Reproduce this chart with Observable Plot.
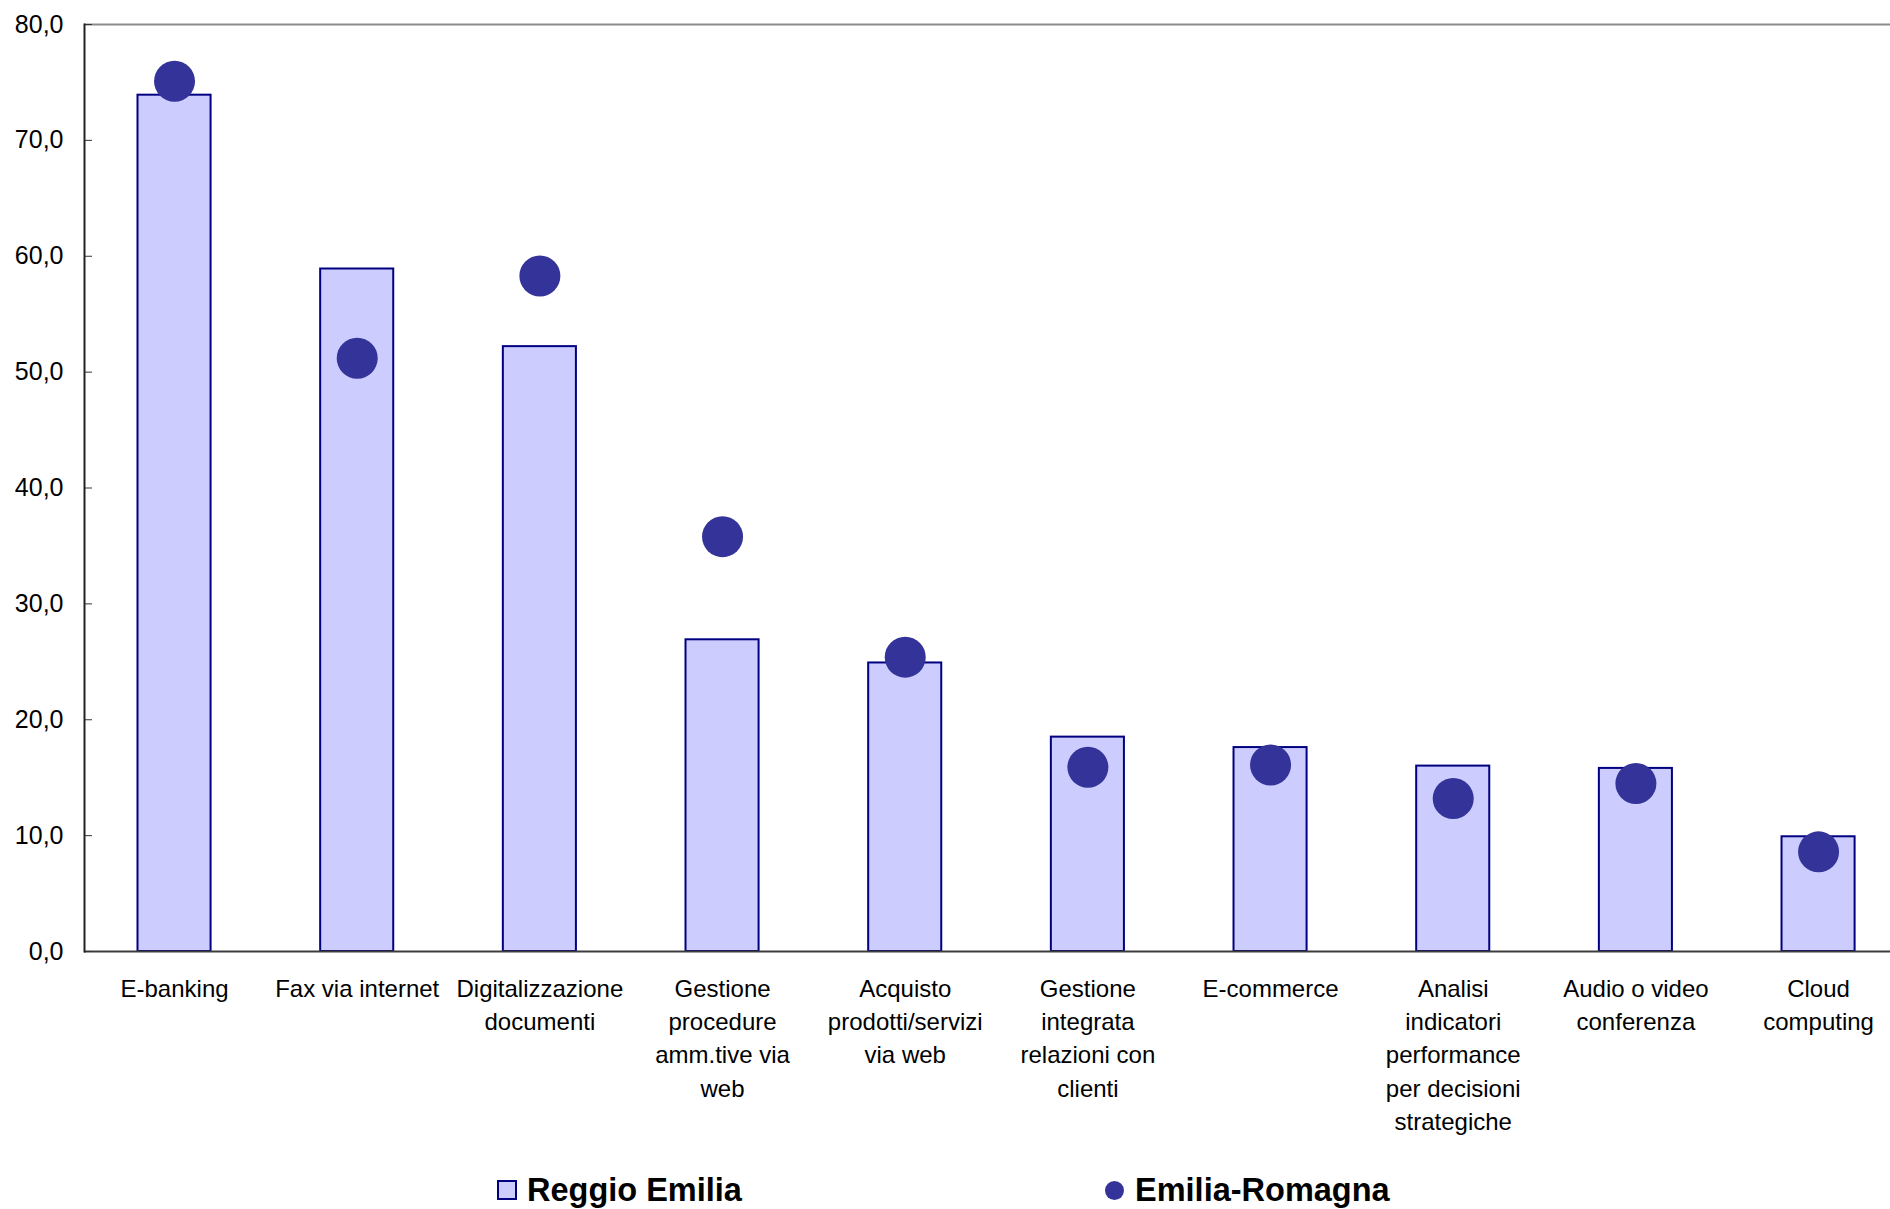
<!DOCTYPE html>
<html><head><meta charset="utf-8">
<script src="https://cdn.jsdelivr.net/npm/d3@7"></script>
<script src="https://cdn.jsdelivr.net/npm/@observablehq/plot@0.6"></script>
<style>
body{margin:0;background:#fff;font-family:"Liberation Sans",Arial,sans-serif;}
#chart svg{display:block;}
#legend{position:relative;height:59px;width:1890px;overflow:hidden;}
.item{position:absolute;top:21px;height:38px;display:flex;align-items:center;font-weight:bold;font-size:32.5px;color:#000;white-space:nowrap;}
.sq{width:16px;height:16px;background:#ccccff;border:2px solid #000080;margin-right:10px;}
.dt{width:19px;height:19px;border-radius:50%;background:#333399;margin-right:11px;}
</style></head><body>
<div id="chart"></div>
<div id="legend"></div>
<script>
const categories = ["E-banking","Fax via internet","Digitalizzazione documenti","Gestione procedure amm.tive via web","Acquisto prodotti/servizi via web","Gestione integrata relazioni con clienti","E-commerce","Analisi indicatori performance per decisioni strategiche","Audio o video conferenza","Cloud computing"];
const tickLabels = ["E-banking","Fax via internet","Digitalizzazione\ndocumenti","Gestione\nprocedure\namm.tive via\nweb","Acquisto\nprodotti/servizi\nvia web","Gestione\nintegrata\nrelazioni con\nclienti","E-commerce","Analisi\nindicatori\nperformance\nper decisioni\nstrategiche","Audio o video\nconferenza","Cloud\ncomputing"];
const reggioEmilia = [73.9, 58.9, 52.2, 26.9, 24.9, 18.5, 17.6, 16.0, 15.8, 9.9];
const emiliaRomagna = [75.1, 51.2, 58.3, 35.8, 25.4, 15.9, 16.1, 13.2, 14.5, 8.6];
const yTicks = [0, 10, 20, 30, 40, 50, 60, 70, 80];
const seriesNames = ["Reggio Emilia", "Emilia-Romagna"];

const data = categories.map((c, i) => ({cat: c, label: tickLabels[i], re: reggioEmilia[i], er: emiliaRomagna[i]}));
const fmt = d => d.toFixed(1).replace(".", ",");

const chart = Plot.plot({
  width: 1890, height: 1150,
  marginLeft: 84, marginRight: -20, marginTop: 24, marginBottom: 199,
  style: {fontFamily: "'Liberation Sans', Arial, sans-serif", background: "#fff", color: "#000"},
  x: {domain: categories, range: [82.7, 1909.4], round: false, paddingInner: 0.6, paddingOuter: 0.3, axis: null},
  y: {domain: [0, 80], axis: null},
  marks: [
    Plot.barY(data, {x: "cat", y: "re", fill: "#ccccff", stroke: "#000080", strokeWidth: 2}),
    Plot.ruleY([80], {stroke: "#8c8c8c", strokeWidth: 2}),
    Plot.ruleY([0], {stroke: "#3c3c3c", strokeWidth: 2}),
    Plot.axisY({ticks: yTicks, tickFormat: fmt, tickSize: 0, tickPadding: 21, fontSize: 25, fill: "#000"}),
    Plot.axisY({ticks: yTicks, tickFormat: () => "", tickSize: 8, dx: 8, stroke: "#333"}),
    Plot.frame({anchor: "left", stroke: "#222", strokeWidth: 2}),
    Plot.dot(data, {x: "cat", y: "er", r: 20.5, fill: "#333399"}),
    Plot.text(data, {x: "cat", text: "label", frameAnchor: "bottom", lineAnchor: "top", dy: 22, lineHeight: 1.383, fontSize: 24, fill: "#000"})
  ]
});
document.getElementById("chart").appendChild(chart);

const legend = document.getElementById("legend");
const items = [{name: seriesNames[0], cls: "sq", left: 497}, {name: seriesNames[1], cls: "dt", left: 1105}];
for (const it of items) {
  const d = document.createElement("div");
  d.className = "item";
  d.style.left = it.left + "px";
  const m = document.createElement("span");
  m.className = it.cls;
  d.appendChild(m);
  d.appendChild(document.createTextNode(it.name));
  legend.appendChild(d);
}
</script>
</body></html>
